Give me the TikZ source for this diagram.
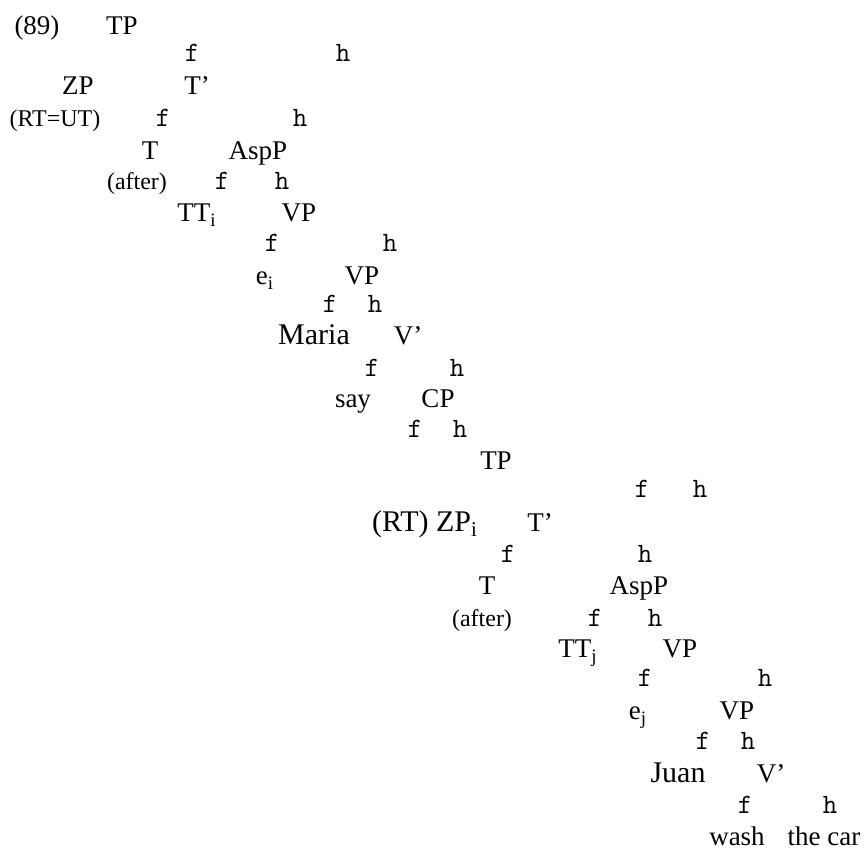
\documentclass[tikz,border=0pt]{standalone}
\usepackage{fontspec}
\setmainfont{Liberation Serif}
\begin{document}
\begin{tikzpicture}[x=0.5pt,y=-0.5pt,
  lab/.style={inner sep=0pt,anchor=base,font=\fontsize{13.5}{15}\selectfont},
  big/.style={inner sep=0pt,anchor=base,font=\fontsize{15}{17}\selectfont},
  small/.style={inner sep=0pt,anchor=base,font=\fontsize{12}{14}\selectfont},
  br/.style={inner sep=0pt,anchor=base,font=\ttfamily\fontsize{14}{16}\selectfont}]
\useasboundingbox (0,0) rectangle (868,849);
\node[lab] (ex) at (37,35) {(89)};
\node[lab] (tp1) at (122,35) {TP};
\node[br] (f1) at (192,62) {f};
\node[br] (h1) at (343,62) {h};
\node[lab] (zp1) at (78,95) {ZP};
\node[lab] (tbar1) at (197,95) {T’};
\node[small] (rtut) at (55,127) {(RT=UT)};
\node[br] (f2) at (163,127) {f};
\node[br] (h2) at (300,127) {h};
\node[lab] (t1) at (150,160) {T};
\node[lab] (asp1) at (258,160) {AspP};
\node[small] (after1) at (137,190) {(after)};
\node[br] (f3) at (222,190) {f};
\node[br] (h3) at (282,190) {h};
\node[lab] (tti) at (197,222) {TT\textsubscript{i}};
\node[lab] (vp1) at (299,222) {VP};
\node[br] (f4) at (272,252) {f};
\node[br] (h4) at (390,252) {h};
\node[lab] (ei) at (265,285) {e\textsubscript{i}};
\node[lab] (vp2) at (362,285) {VP};
\node[br] (f5) at (330,313) {f};
\node[br] (h5) at (375,313) {h};
\node[big] (maria) at (314,345) {Maria};
\node[lab] (vbar1) at (408,345) {V’};
\node[br] (f6) at (372,377) {f};
\node[br] (h6) at (457,377) {h};
\node[lab] (say) at (353,408) {say};
\node[lab] (cp) at (438,408) {CP};
\node[br] (f7) at (415,438) {f};
\node[br] (h7) at (460,438) {h};
\node[lab] (tp2) at (496,470) {TP};
\node[br] (f8) at (642,498) {f};
\node[br] (h8) at (700,498) {h};
\node[big] (zpi) at (425,532) {(RT) ZP\textsubscript{i}};
\node[lab] (tbar2) at (540,532) {T’};
\node[br] (f9) at (508,563) {f};
\node[br] (h9) at (645,563) {h};
\node[lab] (t2) at (487,595) {T};
\node[lab] (asp2) at (639,595) {AspP};
\node[small] (after2) at (482,627) {(after)};
\node[br] (f10) at (595,627) {f};
\node[br] (h10) at (655,627) {h};
\node[lab] (ttj) at (578,658) {TT\textsubscript{j}};
\node[lab] (vp3) at (680,658) {VP};
\node[br] (f11) at (645,687) {f};
\node[br] (h11) at (765,687) {h};
\node[lab] (ej) at (638,720) {e\textsubscript{j}};
\node[lab] (vp4) at (737,720) {VP};
\node[br] (f12) at (703,750) {f};
\node[br] (h12) at (748,750) {h};
\node[big] (juan) at (678,783) {Juan};
\node[lab] (vbar2) at (771,783) {V’};
\node[br] (f13) at (745,813) {f};
\node[br] (h13) at (830,813) {h};
\node[lab] (wash) at (737,845) {wash};
\node[lab] (car) at (824,845) {the car};
\end{tikzpicture}
\end{document}
